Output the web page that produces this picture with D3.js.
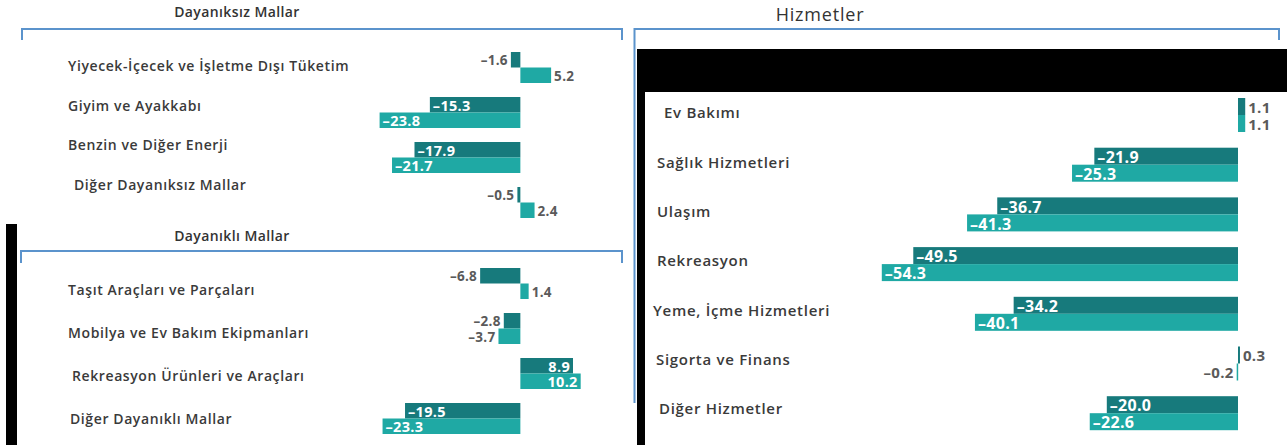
<!DOCTYPE html>
<html>
<head>
<meta charset="utf-8">
<script src="https://d3js.org/d3.v7.min.js"></script>
<style>
  body { margin: 0; background: #fff; }
  svg { display: block; font-family: "Open Sans", "DejaVu Sans", sans-serif; }
</style>
</head>
<body>
<svg id="chart" width="1287" height="445"></svg>
<script>
// data
const nondurableCats = ["Yiyecek-İçecek ve İşletme Dışı Tüketim", "Giyim ve Ayakkabı", "Benzin ve Diğer Enerji", "Diğer Dayanıksız Mallar"];
const nondurableA = [-1.6, -15.3, -17.9, -0.5];
const nondurableB = [5.2, -23.8, -21.7, 2.4];

const durableCats = ["Taşıt Araçları ve Parçaları", "Mobilya ve Ev Bakım Ekipmanları", "Rekreasyon Ürünleri ve Araçları", "Diğer Dayanıklı Mallar"];
const durableA = [-6.8, -2.8, 8.9, -19.5];
const durableB = [1.4, -3.7, 10.2, -23.3];

const serviceCats = ["Ev Bakımı", "Sağlık Hizmetleri", "Ulaşım", "Rekreasyon", "Yeme, İçme Hizmetleri", "Sigorta ve Finans", "Diğer Hizmetler"];
const serviceA = [1.1, -21.9, -36.7, -49.5, -34.2, 0.3, -20.0];
const serviceB = [1.1, -25.3, -41.3, -54.3, -40.1, -0.2, -22.6];

const seriesKeys = ["a", "b"];
const colors = {a: "#177a7c", b: "#1fa9a4"};
const bracketColor = "#5b93cc";

const svg = d3.select("#chart");

// background pieces of the pasted picture
svg.append("rect").attr("x", 6).attr("y", 224).attr("width", 11).attr("height", 221).attr("fill", "#000");
svg.append("rect").attr("x", 637).attr("y", 49).attr("width", 650).attr("height", 43).attr("fill", "#000");
svg.append("rect").attr("x", 637).attr("y", 49).attr("width", 8).attr("height", 396).attr("fill", "#000");

// brackets
const brackets = [
  "M22,40V29H622V40",
  "M21,263V251H622V263",
  "M634.5,403V29H1279V40"
];
svg.selectAll("path.bracket")
  .data(brackets)
  .enter().append("path")
  .attr("class", "bracket")
  .attr("d", d => d)
  .attr("fill", "none")
  .attr("stroke", bracketColor)
  .attr("stroke-width", 2);

// titles
svg.append("text").attr("x", 237).attr("y", 17).attr("text-anchor", "middle")
  .style("font-size", "14px").style("font-weight", 600).style("fill", "#333")
  .style("letter-spacing", "0.4px")
  .text("Dayanıksız Mallar");
svg.append("text").attr("x", 232).attr("y", 241).attr("text-anchor", "middle")
  .style("font-size", "14px").style("font-weight", 600).style("fill", "#333")
  .style("letter-spacing", "0.4px")
  .text("Dayanıklı Mallar");
svg.append("text").attr("x", 820).attr("y", 21).attr("text-anchor", "middle")
  .style("font-size", "18px").style("fill", "#333")
  .style("letter-spacing", "0.8px")
  .text("Hizmetler");

const fmt = v => (v < 0 ? "–" : "") + Math.abs(v).toFixed(1);

function drawPanel(cfg) {
  const n = cfg.cats.length;
  const pad = 1 - 2 * cfg.barH / cfg.step;
  const y = d3.scaleBand()
    .domain(cfg.cats)
    .range([cfg.top, cfg.top + cfg.step * (n - pad)])
    .paddingInner(pad)
    .paddingOuter(0);
  const ySub = d3.scaleBand().domain(seriesKeys).range([0, y.bandwidth()]);
  const yLabel = d3.scalePoint().domain(cfg.cats).range(cfg.labelRange);
  const x = cfg.x;

  const rows = cfg.cats.map((c, i) => ({cat: c, a: cfg.a[i], b: cfg.b[i]}));
  const g = svg.append("g");

  // category names
  g.selectAll("text.cat")
    .data(rows)
    .enter().append("text")
    .attr("class", "cat")
    .attr("x", (d, i) => cfg.labelX[i])
    .attr("y", d => yLabel(d.cat))
    .attr("dy", "0.35em")
    .style("font-size", cfg.catSize + "px")
    .style("font-weight", 600)
    .style("letter-spacing", cfg.catSpacing + "px")
    .style("fill", "#3a3a3a")
    .text(d => d.cat);

  const cells = [];
  rows.forEach(r => seriesKeys.forEach(k => cells.push({cat: r.cat, key: k, v: r[k]})));

  g.selectAll("rect.bar")
    .data(cells)
    .enter().append("rect")
    .attr("class", "bar")
    .attr("x", d => Math.min(x(0), x(d.v)))
    .attr("y", d => y(d.cat) + ySub(d.key))
    .attr("width", d => Math.max(1.5, Math.abs(x(d.v) - x(0))))
    .attr("height", ySub.bandwidth())
    .attr("fill", d => colors[d.key]);

  g.selectAll("text.val")
    .data(cells)
    .enter().append("text")
    .attr("class", "val")
    .each(function(d) {
      const w = Math.abs(x(d.v) - x(0));
      const inside = w > 45;
      const neg = d.v < 0;
      let tx, anchor;
      if (inside) {
        tx = neg ? x(d.v) + 3 : x(d.v) - 3;
        anchor = neg ? "start" : "end";
      } else {
        tx = neg ? x(d.v) - 3 : Math.max(x(d.v), x(0) + 1.5) + 3;
        anchor = neg ? "end" : "start";
      }
      d3.select(this)
        .attr("x", tx)
        .attr("y", y(d.cat) + ySub(d.key) + ySub.bandwidth() / 2 + 1)
        .attr("dy", "0.35em")
        .attr("text-anchor", anchor)
        .style("font-size", (inside ? cfg.valSize : cfg.valSize - 1) + "px")
        .style("font-weight", 700)
        .style("letter-spacing", "0.3px")
        .style("fill", inside ? "#fff" : "#5a5a5a")
        .text(fmt(d.v));
    });
}

const xLeft = d3.scaleLinear().domain([-25, 10]).range([372.5, 579.5]);
const xRight = d3.scaleLinear().domain([-55, 5]).range([877.2, 1270.8]);

drawPanel({
  cats: nondurableCats, a: nondurableA, b: nondurableB, x: xLeft,
  top: 52, step: 45, barH: 15.5,
  labelRange: [66, 185], labelX: [68, 68, 68, 74],
  catSize: 14, catSpacing: 0.6, valSize: 14.5
});
drawPanel({
  cats: durableCats, a: durableA, b: durableB, x: xLeft,
  top: 268, step: 45, barH: 15.5,
  labelRange: [290, 419], labelX: [68, 68, 72, 70],
  catSize: 14, catSpacing: 0.6, valSize: 14.5
});
drawPanel({
  cats: serviceCats, a: serviceA, b: serviceB, x: xRight,
  top: 98, step: 49.7, barH: 17,
  labelRange: [113, 409], labelX: [664, 657, 657, 657, 653, 656, 659],
  catSize: 15, catSpacing: 0.7, valSize: 16
});
</script>
</body>
</html>
